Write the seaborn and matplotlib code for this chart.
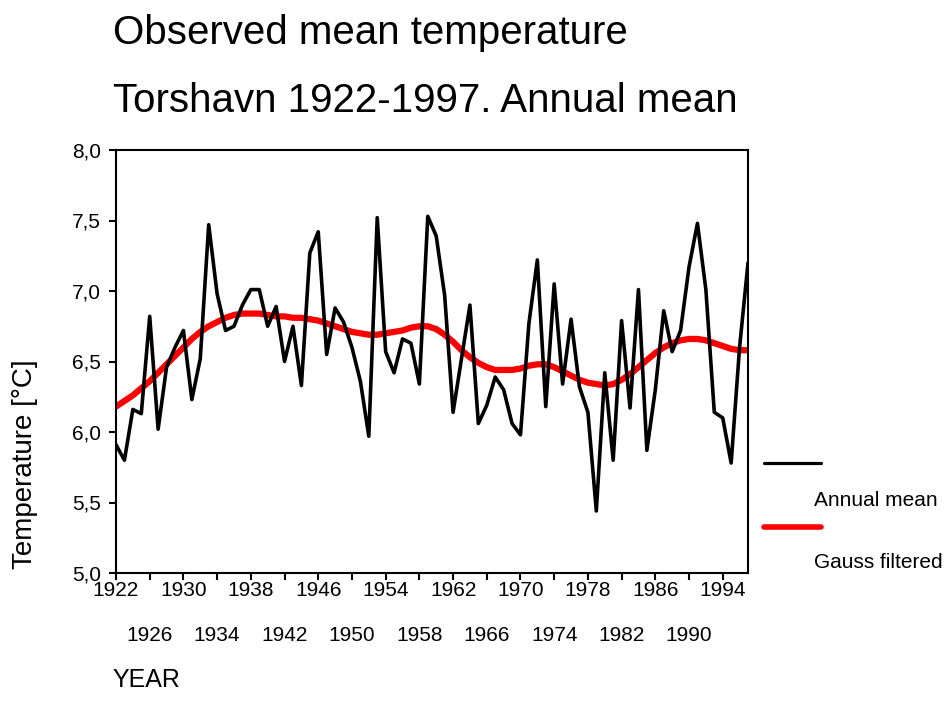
import matplotlib
matplotlib.use("Agg")
import matplotlib.pyplot as plt
from matplotlib.lines import Line2D
from matplotlib.ticker import FixedLocator, FixedFormatter
import numpy as np
import pandas as pd
import seaborn as sns

years = list(range(1922, 1998))
annual_mean = [
    5.91, 5.80, 6.16, 6.13, 6.82, 6.02, 6.46, 6.60, 6.72, 6.23,
    6.52, 7.47, 6.98, 6.72, 6.75, 6.90, 7.01, 7.01, 6.75, 6.89,
    6.50, 6.75, 6.33, 7.27, 7.42, 6.55, 6.88, 6.78, 6.60, 6.36,
    5.97, 7.52, 6.57, 6.42, 6.66, 6.63, 6.34, 7.53, 7.39, 6.97,
    6.14, 6.52, 6.90, 6.06, 6.19, 6.39, 6.30, 6.06, 5.98, 6.77,
    7.22, 6.18, 7.05, 6.34, 6.80, 6.32, 6.14, 5.44, 6.42, 5.80,
    6.79, 6.17, 7.01, 5.87, 6.30, 6.86, 6.57, 6.72, 7.17, 7.48,
    7.01, 6.14, 6.10, 5.78, 6.60, 7.20,
]
gauss_filtered = [
    6.18, 6.22, 6.26, 6.31, 6.36, 6.42, 6.48, 6.54, 6.60, 6.66,
    6.71, 6.75, 6.78, 6.81, 6.83, 6.84, 6.84, 6.84, 6.83, 6.82,
    6.82, 6.81, 6.81, 6.80, 6.79, 6.77, 6.75, 6.73, 6.71, 6.70,
    6.69, 6.69, 6.70, 6.71, 6.72, 6.74, 6.75, 6.75, 6.73, 6.69,
    6.64, 6.58, 6.53, 6.49, 6.46, 6.44, 6.44, 6.44, 6.45, 6.47,
    6.48, 6.48, 6.46, 6.43, 6.40, 6.37, 6.35, 6.34, 6.33, 6.34,
    6.37, 6.41, 6.46, 6.51, 6.56, 6.60, 6.63, 6.65, 6.66, 6.66,
    6.65, 6.63, 6.61, 6.59, 6.58, 6.58,
]
y_ticks = [5.0, 5.5, 6.0, 6.5, 7.0, 7.5, 8.0]
y_tick_labels = ["5,0", "5,5", "6,0", "6,5", "7,0", "7,5", "8,0"]
x_ticks_row1 = list(range(1922, 1998, 8))
x_ticks_row2 = list(range(1926, 1998, 8))
series_names = ["Annual mean", "Gauss filtered"]
series_colors = ["black", "red"]

sns.set_theme(style="white")
plt.rcParams["font.family"] = ["Liberation Sans", "DejaVu Sans"]
plt.rcParams["text.color"] = "black"

df = pd.DataFrame({"year": years, "Annual mean": annual_mean, "Gauss filtered": gauss_filtered})

fig = plt.figure(figsize=(9.49, 7.14), dpi=100)
ax = fig.add_axes([116 / 949, 1 - 573 / 714, (748 - 116) / 949, (573 - 150) / 714])

sns.lineplot(data=df, x="year", y="Gauss filtered", color=series_colors[1], linewidth=4.5, ax=ax)
sns.lineplot(data=df, x="year", y="Annual mean", color=series_colors[0], linewidth=2.6, ax=ax)

ax.set_xlim(years[0], years[-1])
ax.set_ylim(y_ticks[0], y_ticks[-1])
ax.yaxis.set_major_locator(FixedLocator(y_ticks))
ax.yaxis.set_major_formatter(FixedFormatter(y_tick_labels))
ax.xaxis.set_major_locator(FixedLocator(x_ticks_row1))
ax.xaxis.set_major_formatter(FixedFormatter([str(v) for v in x_ticks_row1]))
ax.xaxis.set_minor_locator(FixedLocator(x_ticks_row2))
ax.xaxis.set_minor_formatter(FixedFormatter([str(v) for v in x_ticks_row2]))

ax.tick_params(axis="both", which="both", direction="out", length=5, width=1.5,
               color="black", labelsize=15, labelcolor="black")
ax.tick_params(axis="x", which="major", pad=1, bottom=True)
ax.tick_params(axis="x", which="minor", pad=33, bottom=True)
ax.tick_params(axis="y", which="major", pad=6, left=True)
for s in ax.spines.values():
    s.set_color("black")
    s.set_linewidth(1.5)
ax.set_xlabel("")
ax.set_ylabel("")
ax.grid(False)

fig.text(113 / 949, 1 - 44 / 714, "Observed mean temperature", fontsize=29, va="baseline", ha="left", color="black")
fig.text(113 / 949, 1 - 112 / 714, "Torshavn 1922-1997. Annual mean", fontsize=29, va="baseline", ha="left", color="black")
fig.text(25 / 949, 1 - 464 / 714, "Temperature [°C]", fontsize=20, rotation=90, va="center", ha="center", color="black")
fig.text(112 / 949, 1 - 680 / 714, "YEAR", fontsize=18, va="center", ha="left", color="black")

# legend
legend_y = [463, 527]
legend_lw = [2.3, 4.0]
text_y = [500, 563]
for name, col, ly, lw, ty in zip(series_names, series_colors, legend_y, legend_lw, text_y):
    fig.add_artist(Line2D([764 / 949, 821 / 949], [1 - ly / 714, 1 - ly / 714], color=col, linewidth=lw))
    fig.text(814 / 949, 1 - ty / 714, name, fontsize=15, va="center", ha="left", color="black")

fig.savefig("out.png", dpi=100)
